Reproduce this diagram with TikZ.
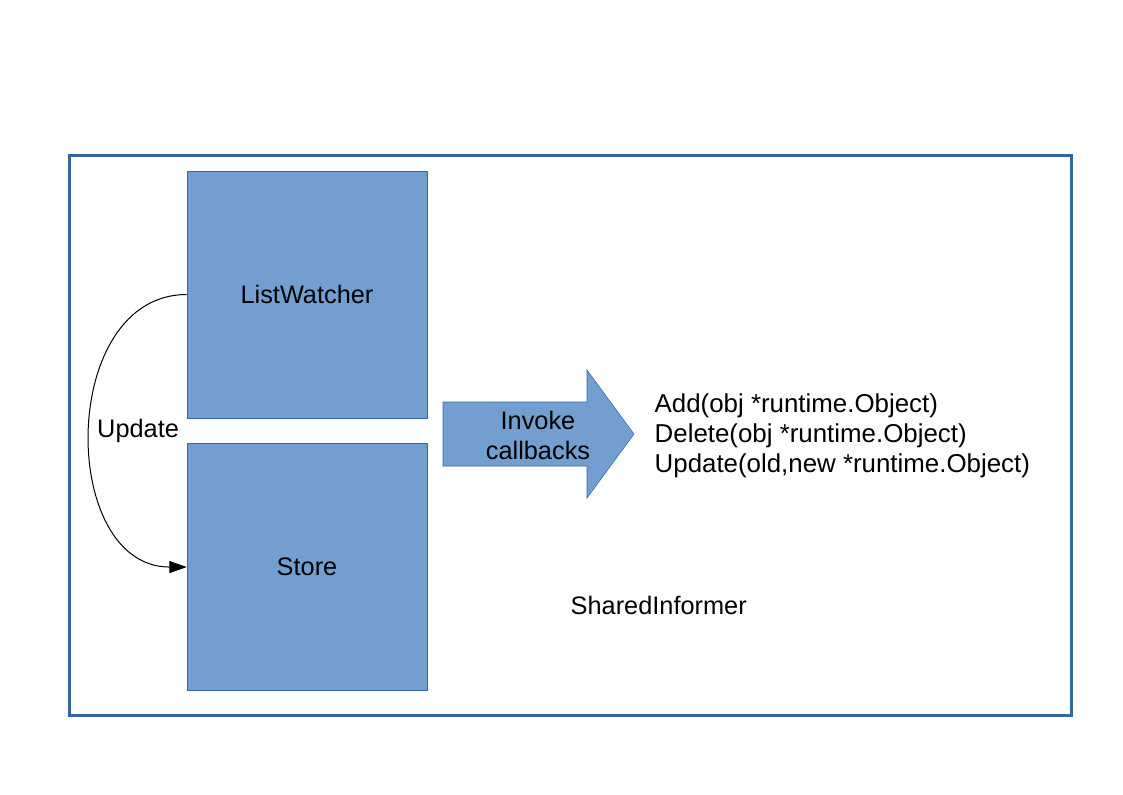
\documentclass[tikz,border=0pt]{standalone}
\usepackage{fontspec}
\setmainfont{Liberation Sans}
\usepackage{xcolor}
\usepackage{tikz}
\usetikzlibrary{positioning,arrows.meta}
\definecolor{boxfill}{HTML}{729FCF}
\definecolor{boxline}{HTML}{3465A4}

\begin{document}
\begin{tikzpicture}[x=0.75pt,y=-0.75pt]
	\useasboundingbox (0,0) rectangle (1123,794);
	% SharedInformer
	\draw[boxline,line width=2.25pt] (69,155) rectangle (1071,715);
	\node[anchor=base west,font=\fontsize{19}{22.5}\selectfont] (si) at (566,614) {SharedInformer};
	% ListWatcher
	\node[draw=boxline,fill=boxfill,rectangle,minimum width=180pt,minimum height=185.25pt,font=\fontsize{19}{22.5}\selectfont] (lw) at (307,294.5) {ListWatcher};
	% Store
	\node[draw=boxline,fill=boxfill,rectangle,minimum width=180pt,minimum height=185.25pt,font=\fontsize{19}{22.5}\selectfont, below=18.75pt of lw] (store) {Store};
	
	% Update
	\draw[-{Triangle[length=13pt,width=9pt]}, line width=0.75pt] (lw.west) to[out=180,in=180,looseness=1.21] node[right=1.5pt,font=\fontsize{19}{22.5}\selectfont]{Update} (store.west);
	
	% Invoke callbacks
	\filldraw[draw=boxline,fill=boxfill] (443,402) -- (587,402) -- (587,370) -- (634,434) -- (587,498) -- (587,466) -- (443,466) -- cycle;
	\node[align=center,font=\fontsize{19}{22.5}\selectfont] (inv) at (538,435) {Invoke\\callbacks};
	% Callbacks
	\node[anchor=west,align=left,font=\fontsize{19.4}{22.5}\selectfont] (cb) at (650,436) {Add(obj *runtime.Object)\\Delete(obj *runtime.Object)\\Update(old,new *runtime.Object)};
\end{tikzpicture}
\end{document}
